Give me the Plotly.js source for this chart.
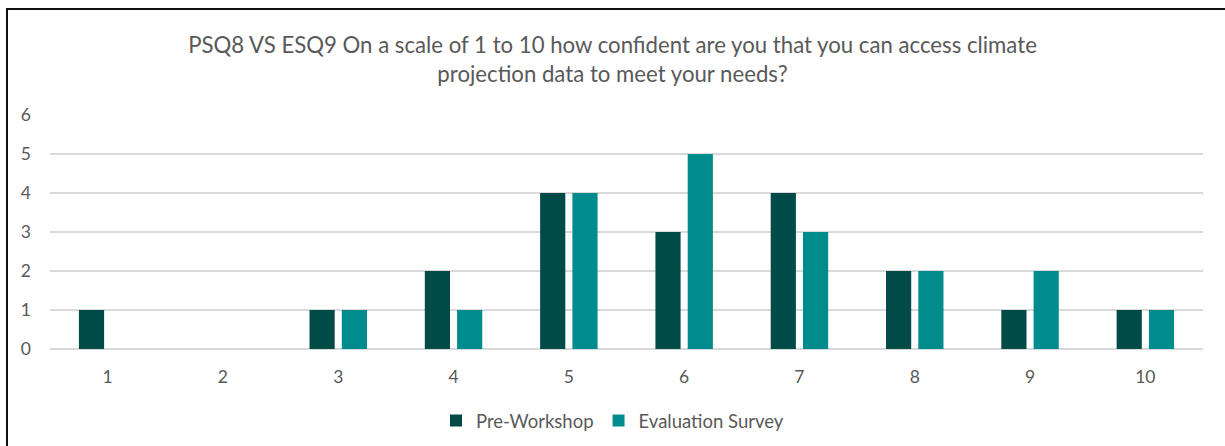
<!DOCTYPE html>
<html>
<head>
<meta charset="utf-8">
<script src="https://cdn.plot.ly/plotly-3.0.1.min.js"></script>
<style>
html,body{margin:0;padding:0;background:#fff;overflow:hidden;}
#chart{position:absolute;left:0;top:0;width:1225px;height:446px;}
#frame{position:absolute;left:6px;top:8px;width:1300px;height:600px;border:2px solid #111;pointer-events:none;}
</style>
</head>
<body>
<div id="chart"></div>
<div id="frame"></div>
<script>
const categories = ["1","2","3","4","5","6","7","8","9","10"];
const preWorkshop = [1, 0, 1, 2, 4, 3, 4, 2, 1, 1];
const evaluationSurvey = [0, 0, 1, 1, 4, 5, 3, 2, 2, 1];
const seriesNames = ["Pre-Workshop", "Evaluation Survey"];
const titleText = "PSQ8 VS ESQ9 On a scale of 1 to 10 how confident are you that you can access climate<br>projection data to meet your needs?";

const font = "Lato, 'Open Sans', sans-serif";
const traces = [
  {type:"bar", x:categories, y:preWorkshop, name:seriesNames[0],
   marker:{color:"#004A47", line:{width:0}}},
  {type:"bar", x:categories, y:evaluationSurvey, name:seriesNames[1],
   marker:{color:"#008C8C", line:{width:0}}}
];
const layout = {
  width:1225, height:446,
  margin:{l:50, r:22, t:115, b:97},
  paper_bgcolor:"#fff", plot_bgcolor:"#fff",
  font:{family:font, color:"#595959", size:16},
  title:{text:titleText, font:{family:font, size:22.2, color:"#595959"},
    x:0.5, xanchor:"center", xref:"container", y:1-53/446, yref:"container", yanchor:"middle"},
  barmode:"group", bargap:0.44, bargroupgap:0.22,
  xaxis:{type:"category", showgrid:false, zeroline:false, showline:false, automargin:false,
    tickfont:{size:17.5, color:"#595959"}, ticklabelstandoff:15},
  yaxis:{range:[0,6], dtick:1, showgrid:true, gridcolor:"#D9D9D9", gridwidth:1.3, automargin:false,
    zeroline:true, zerolinecolor:"#D9D9D9", zerolinewidth:1.3, showline:false,
    tickfont:{size:17.5, color:"#595959"}, ticklabelstandoff:18},
  showlegend:true,
  legend:{orientation:"h", x:0.5, xanchor:"center", xref:"container",
    y:1-421/446, yref:"container", yanchor:"middle",
    font:{size:18.5, color:"#595959"}, itemwidth:30, traceorder:"normal"}
};
Plotly.newPlot("chart", traces, layout, {displayModeBar:false, staticPlot:true});
</script>
</body>
</html>
